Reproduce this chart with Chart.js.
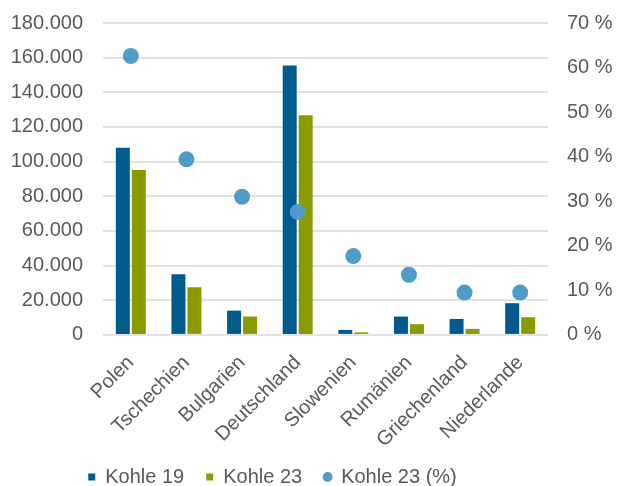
<!DOCTYPE html>
<html>
<head>
<meta charset="utf-8">
<script src="https://cdn.jsdelivr.net/npm/chart.js@4/dist/chart.umd.min.js"></script>
<style>
  html, body { margin: 0; padding: 0; background: #ffffff; }
  #wrap { width: 619px; height: 486px; }
</style>
</head>
<body>
<div id="wrap"><canvas id="c" width="619" height="486"></canvas></div>
<script>
// Kohleverstromung nach Ländern
const categories = ['Polen', 'Tschechien', 'Bulgarien', 'Deutschland', 'Slowenien', 'Rumänien', 'Griechenland', 'Niederlande'];
const kohle19 = [108000, 35000, 14000, 155500, 2900, 10600, 9200, 18300];
const kohle23 = [95200, 27500, 10600, 126800, 1500, 6200, 3500, 10200];
const kohle23Anteil = [62.6, 39.4, 31.0, 27.6, 17.7, 13.5, 9.5, 9.5];

const leftTicks = [0, 20000, 40000, 60000, 80000, 100000, 120000, 140000, 160000, 180000];
const rightTicks = [0, 10, 20, 30, 40, 50, 60, 70];

const textColor = '#595959';
const gridColor = '#e3e3e3';
const fontFamily = '"Liberation Sans", Arial, sans-serif';

const BOTTOM_OVERLAP = 34;

function formatThousands(v) {
  return String(Math.round(v)).replace(/\B(?=(\d{3})+(?!\d))/g, '.');
}

// Places the legend row after the layout pass (left of centre, near the bottom edge)
const legendOffset = {
  id: 'legendOffset',
  afterLayout(chart) {
    const lg = chart.legend;
    if (!lg) return;
    const dy = 11 - BOTTOM_OVERLAP;
    lg.left -= 37; lg.right -= 37;
    lg.top += dy; lg.bottom += dy;
  }
};

// Vertical axes: fixed width and a fixed top margin for the plot
function fitVertical(width) {
  return (scale) => {
    scale.width = width;
    scale.paddingTop = 23;
    scale.paddingBottom = 0;
  };
}

new Chart(document.getElementById('c'), {
  data: {
    labels: categories,
    datasets: [
      {
        type: 'scatter',
        label: 'Kohle 23 (%)',
        data: kohle23Anteil,
        yAxisID: 'y1',
        showLine: false,
        pointRadius: 8,
        pointHoverRadius: 8,
        pointBackgroundColor: '#4f9dc6',
        pointBorderWidth: 0,
        backgroundColor: '#4f9dc6',
        borderColor: '#4f9dc6',
        pointStyle: 'circle',
        order: 0
      },
      {
        type: 'bar',
        label: 'Kohle 19',
        data: kohle19,
        yAxisID: 'y',
        backgroundColor: '#005a8c',
        pointStyle: 'rect',
        categoryPercentage: 0.575,
        barPercentage: 0.875,
        order: 1
      },
      {
        type: 'bar',
        label: 'Kohle 23',
        data: kohle23,
        yAxisID: 'y',
        backgroundColor: '#8a9b00',
        pointStyle: 'rect',
        categoryPercentage: 0.575,
        barPercentage: 0.875,
        order: 2
      }
    ]
  },
  plugins: [legendOffset],
  options: {
    responsive: false,
    animation: false,
    layout: { padding: { top: 0, left: 0, right: 0, bottom: -BOTTOM_OVERLAP } },
    font: { family: fontFamily, size: 20 },
    plugins: {
      tooltip: { enabled: false },
      legend: {
        position: 'bottom',
        labels: {
          usePointStyle: true,
          boxWidth: 7,
          boxHeight: 7,
          padding: 22,
          color: textColor,
          font: { family: fontFamily, size: 20 },
          sort: (a, b) => {
            const rank = { 'Kohle 19': 0, 'Kohle 23': 1, 'Kohle 23 (%)': 2 };
            return rank[a.text] - rank[b.text];
          }
        }
      }
    },
    scales: {
      x: {
        type: 'category',
        offset: true,
        grid: { display: false, drawTicks: false },
        border: { display: false },
        ticks: {
          color: textColor,
          font: { family: fontFamily, size: 20 },
          minRotation: 45,
          maxRotation: 45,
          padding: 16,
          autoSkip: false
        }
      },
      y: {
        type: 'linear',
        position: 'left',
        min: 0,
        max: 180000,
        afterBuildTicks: (scale) => { scale.ticks = leftTicks.map(v => ({ value: v })); },
        grid: { color: gridColor, lineWidth: 2, drawTicks: false },
        border: { display: false },
        ticks: {
          color: textColor,
          font: { family: fontFamily, size: 20 },
          padding: 20,
          callback: (v) => formatThousands(v)
        },
        afterFit: fitVertical(103)
      },
      y1: {
        type: 'linear',
        position: 'right',
        min: 0,
        max: 70,
        afterBuildTicks: (scale) => { scale.ticks = rightTicks.map(v => ({ value: v })); },
        grid: { display: false, drawTicks: false },
        border: { display: false },
        ticks: {
          color: textColor,
          font: { family: fontFamily, size: 20 },
          padding: 19,
          callback: (v) => v + ' %'
        },
        afterFit: fitVertical(71)
      }
    }
  }
});
</script>
</body>
</html>
